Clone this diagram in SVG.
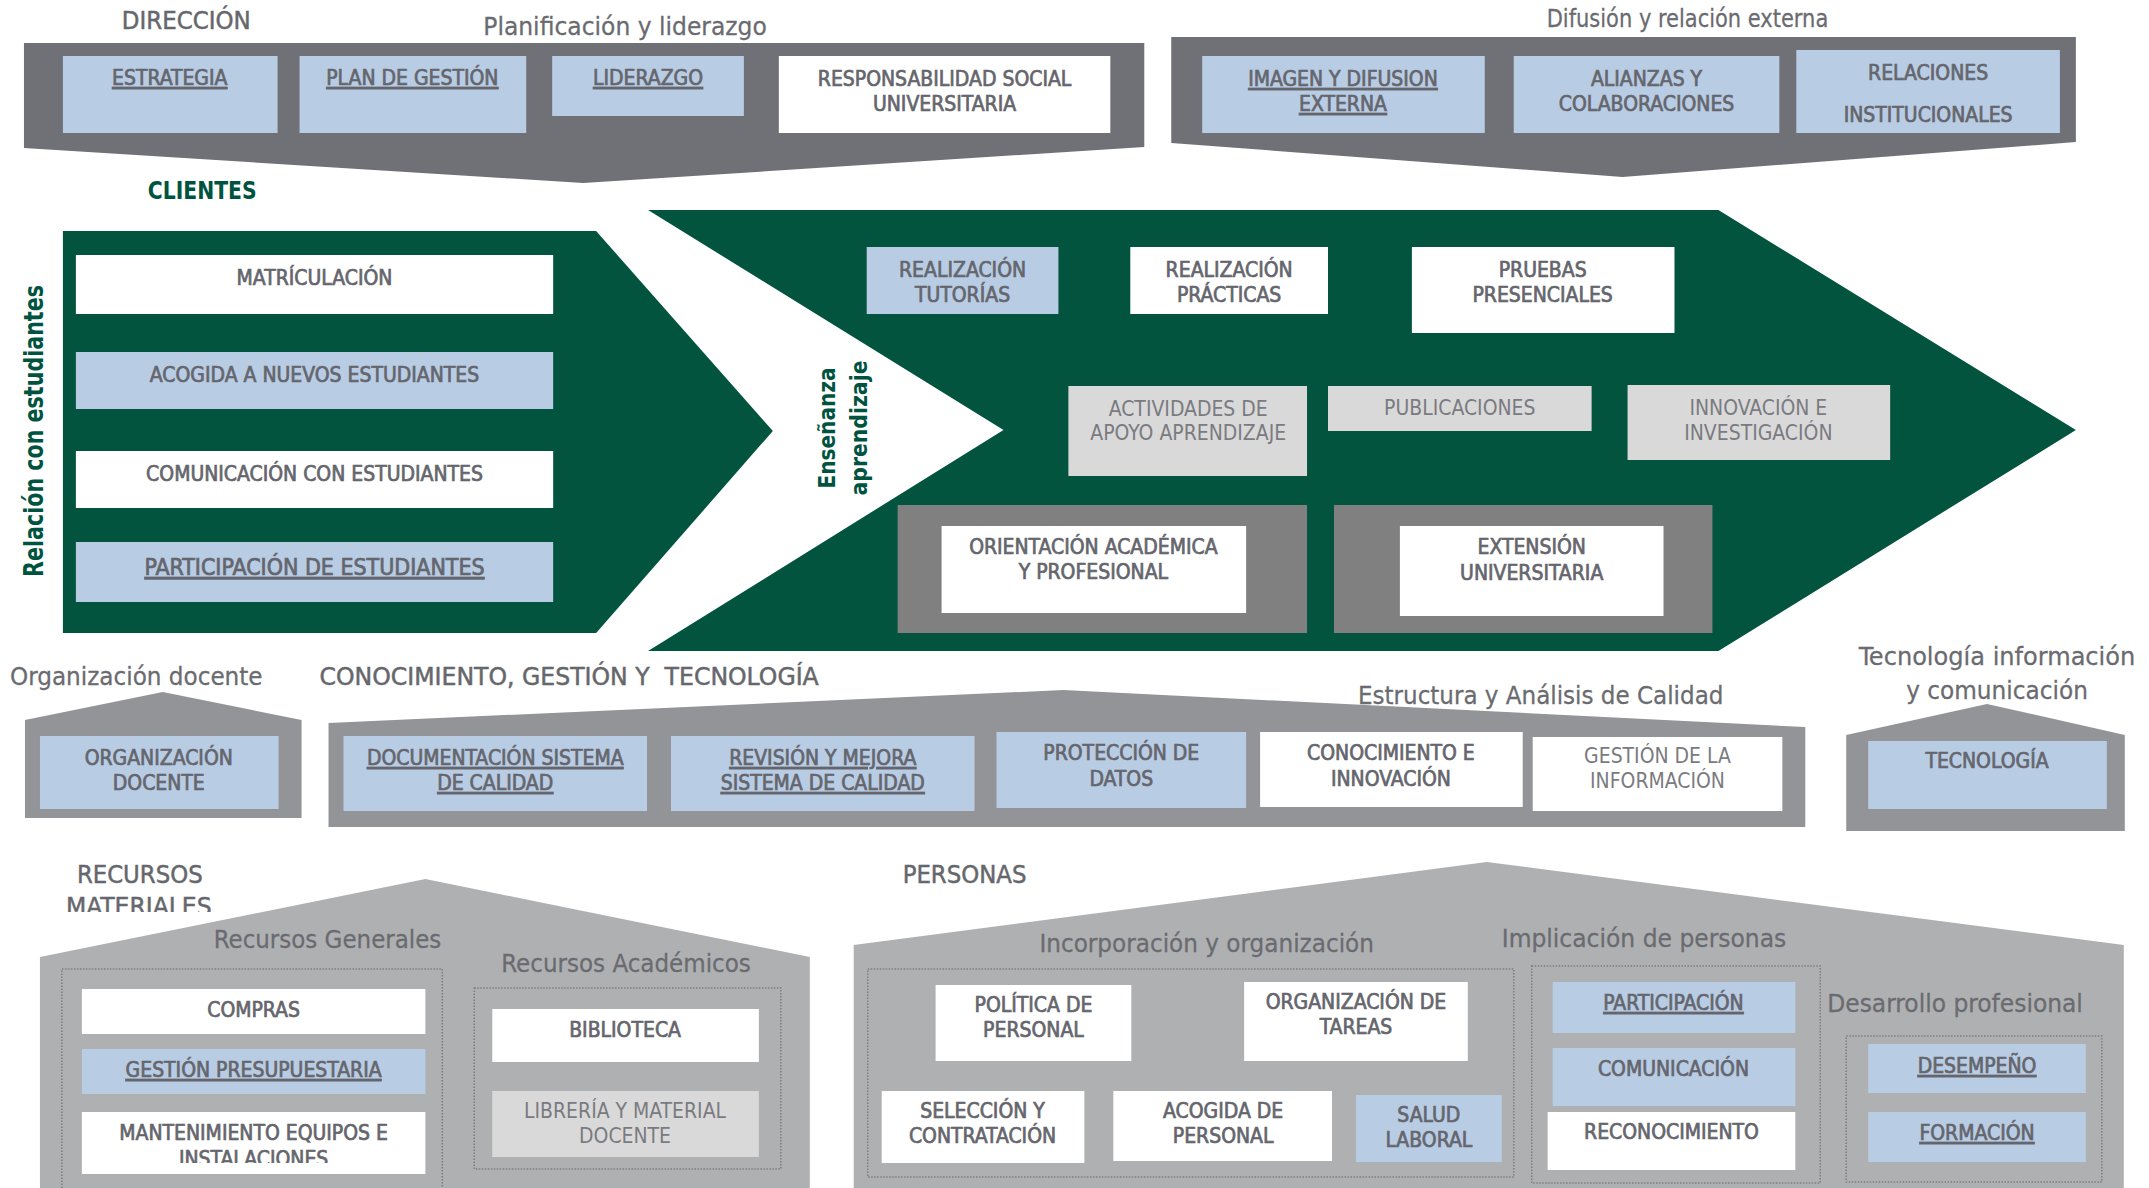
<svg xmlns="http://www.w3.org/2000/svg" width="2149" height="1188" viewBox="0 0 2149 1188">
<style>
text{font-family:"DejaVu Sans Condensed","DejaVu Sans","Liberation Sans",sans-serif;font-stretch:semi-condensed}
.l{font-size:21px;fill:#65666d;stroke:#65666d;stroke-width:0.7;text-anchor:middle}
.lt{font-size:21px;fill:#7a7b80;text-anchor:middle}
.u{text-decoration:underline}
.t{font-size:25px;fill:#6a6b70;stroke:#6a6b70;stroke-width:0.25}
.c{font-size:24px;fill:#66676c;stroke:#66676c;stroke-width:0.45}
.g{font-family:"DejaVu Sans","Liberation Sans",sans-serif;font-stretch:normal;font-weight:bold;fill:#00543f}
.b{fill:#b8cce4}.w{fill:#ffffff}.lg{fill:#d9d9d9}
.dk{fill:#707176}.md{fill:#939498}.lh{fill:#afb0b2}.fr{fill:#808080}.gr{fill:#02543f}
.dot{fill:none;stroke:#7c7d81;stroke-width:1.5;stroke-dasharray:1.5 1.5}
</style>
<defs>
<clipPath id="clipMat"><rect x="0" y="890" width="300" height="22"/></clipPath>
<clipPath id="clipInst"><rect x="82" y="1145" width="344" height="18"/></clipPath>
</defs>
<rect width="2149" height="1188" fill="#ffffff"/>
<g id="diagram" transform="scale(0.9985 1)">
<g id="direccion">
<text class="c" x="122" y="29" textLength="129" lengthAdjust="spacingAndGlyphs">DIRECCIÓN</text>
<text class="t" x="626" y="35" text-anchor="middle" textLength="284" lengthAdjust="spacingAndGlyphs">Planificación y liderazgo</text>
<polygon class="dk" points="24,43 1146,43 1146,147 584,183 24,148"/>
</g>
<g id="estrategia"><rect class="b" x="63" y="56" width="215" height="77"/><text class="l u" x="170" y="85">ESTRATEGIA</text></g>
<g id="plan-gestion"><rect class="b" x="300" y="56" width="227" height="77"/><text class="l u" x="413" y="85">PLAN DE GESTIÓN</text></g>
<g id="liderazgo"><rect class="b" x="553" y="56" width="192" height="60"/><text class="l u" x="649" y="85">LIDERAZGO</text></g>
<g id="rsu"><rect class="w" x="780" y="56" width="332" height="77"/><text class="l" x="946" y="86">RESPONSABILIDAD SOCIAL</text><text class="l" x="946" y="111">UNIVERSITARIA</text></g>

<g id="difusion">
<text class="t" x="1690" y="27" text-anchor="middle" textLength="282" lengthAdjust="spacingAndGlyphs">Difusión y relación externa</text>
<polygon class="dk" points="1173,37 2079,37 2079,142 1625,177 1173,143"/>
</g>
<g id="imagen"><rect class="b" x="1204" y="56" width="283" height="77"/><text class="l u" x="1345" y="86">IMAGEN Y DIFUSION</text><text class="l u" x="1345" y="111">EXTERNA</text></g>
<g id="alianzas"><rect class="b" x="1516" y="56" width="266" height="77"/><text class="l" x="1649" y="86">ALIANZAS Y</text><text class="l" x="1649" y="111">COLABORACIONES</text></g>
<g id="relaciones"><rect class="b" x="1799" y="50" width="264" height="83"/><text class="l" x="1931" y="80">RELACIONES</text><text class="l" x="1931" y="122">INSTITUCIONALES</text></g>

<g id="clientes">
<text class="g" x="148" y="199" font-size="25" textLength="109" lengthAdjust="spacingAndGlyphs">CLIENTES</text>
<polygon class="gr" points="63,231 597,231 774,431 597,633 63,633"/>
<text class="g" font-size="27" text-anchor="middle" transform="translate(43,431) rotate(-90)" textLength="292" lengthAdjust="spacingAndGlyphs">Relación con estudiantes</text>
</g>
<g id="matriculacion"><rect class="w" x="76" y="255" width="478" height="59"/><text class="l" x="315" y="285">MATRÍCULACIÓN</text></g>
<g id="acogida"><rect class="b" x="76" y="352" width="478" height="57"/><text class="l" x="315" y="382">ACOGIDA A NUEVOS ESTUDIANTES</text></g>
<g id="comunicacion-est"><rect class="w" x="76" y="451" width="478" height="57"/><text class="l" x="315" y="481">COMUNICACIÓN CON ESTUDIANTES</text></g>
<g id="participacion-est"><rect class="b" x="76" y="542" width="478" height="60"/><text class="l u" x="315" y="575" style="font-size:23px">PARTICIPACIÓN DE ESTUDIANTES</text></g>

<g id="ensenanza">
<polygon class="gr" points="649,210 1721,210 2079,430 1721,651 649,651 1005,430"/>
<text class="g" font-size="23" text-anchor="middle" transform="translate(836,428) rotate(-90)" textLength="121" lengthAdjust="spacingAndGlyphs">Enseñanza</text>
<text class="g" font-size="23" text-anchor="middle" transform="translate(868,428) rotate(-90)" textLength="135" lengthAdjust="spacingAndGlyphs">aprendizaje</text>
</g>
<g id="tutorias"><rect class="b" x="868" y="247" width="192" height="67"/><text class="l" x="964" y="277">REALIZACIÓN</text><text class="l" x="964" y="302">TUTORÍAS</text></g>
<g id="practicas"><rect class="w" x="1132" y="247" width="198" height="67"/><text class="l" x="1231" y="277">REALIZACIÓN</text><text class="l" x="1231" y="302">PRÁCTICAS</text></g>
<g id="pruebas"><rect class="w" x="1414" y="247" width="263" height="86"/><text class="l" x="1545" y="277">PRUEBAS</text><text class="l" x="1545" y="302">PRESENCIALES</text></g>
<g id="actividades"><rect class="lg" x="1070" y="386" width="239" height="90"/><text class="lt" x="1190" y="416">ACTIVIDADES DE</text><text class="lt" x="1190" y="440">APOYO APRENDIZAJE</text></g>
<g id="publicaciones"><rect class="lg" x="1330" y="386" width="264" height="45"/><text class="lt" x="1462" y="415">PUBLICACIONES</text></g>
<g id="innovacion"><rect class="lg" x="1630" y="385" width="263" height="75"/><text class="lt" x="1761" y="415">INNOVACIÓN E</text><text class="lt" x="1761" y="440">INVESTIGACIÓN</text></g>
<g id="orientacion"><rect class="fr" x="899" y="505" width="410" height="128"/><rect class="w" x="943" y="526" width="305" height="87"/><text class="l" x="1095" y="554">ORIENTACIÓN ACADÉMICA</text><text class="l" x="1095" y="579">Y PROFESIONAL</text></g>
<g id="extension"><rect class="fr" x="1336" y="505" width="379" height="128"/><rect class="w" x="1402" y="526" width="264" height="90"/><text class="l" x="1534" y="554">EXTENSIÓN</text><text class="l" x="1534" y="580">UNIVERSITARIA</text></g>

<g id="organizacion-docente">
<text class="t" x="10" y="685" textLength="253" lengthAdjust="spacingAndGlyphs">Organización docente</text>
<polygon class="md" points="25,720 163,692 302,720 302,818 25,818"/>
<rect class="b" x="40" y="736" width="239" height="73"/><text class="l" x="159" y="765">ORGANIZACIÓN</text><text class="l" x="159" y="790">DOCENTE</text>
</g>

<g id="conocimiento">
<text class="c" x="320" y="685" textLength="500" lengthAdjust="spacingAndGlyphs" xml:space="preserve">CONOCIMIENTO, GESTIÓN Y  TECNOLOGÍA</text>
<polygon class="md" points="329,723 1065,690 1808,727 1808,827 329,827"/>
<text class="t" x="1360" y="704" textLength="366" lengthAdjust="spacingAndGlyphs">Estructura y Análisis de Calidad</text>
</g>
<g id="documentacion"><rect class="b" x="344" y="736" width="304" height="75"/><text class="l u" x="496" y="765">DOCUMENTACIÓN SISTEMA</text><text class="l u" x="496" y="790">DE CALIDAD</text></g>
<g id="revision"><rect class="b" x="672" y="736" width="304" height="75"/><text class="l u" x="824" y="765">REVISIÓN Y MEJORA</text><text class="l u" x="824" y="790">SISTEMA DE CALIDAD</text></g>
<g id="proteccion"><rect class="b" x="998" y="732" width="250" height="76"/><text class="l" x="1123" y="760">PROTECCIÓN DE</text><text class="l" x="1123" y="786">DATOS</text></g>
<g id="conocimiento-innovacion"><rect class="w" x="1262" y="732" width="263" height="75"/><text class="l" x="1393" y="760">CONOCIMIENTO E</text><text class="l" x="1393" y="786">INNOVACIÓN</text></g>
<g id="gestion-informacion"><rect class="w" x="1535" y="737" width="250" height="74"/><text class="lt" x="1660" y="763">GESTIÓN DE LA</text><text class="lt" x="1660" y="788">INFORMACIÓN</text></g>

<g id="tecnologia">
<text class="t" x="2000" y="665" text-anchor="middle" textLength="277" lengthAdjust="spacingAndGlyphs">Tecnología información</text>
<text class="t" x="2000" y="699" text-anchor="middle" textLength="182" lengthAdjust="spacingAndGlyphs">y comunicación</text>
<polygon class="md" points="1849,735 1990,704 2128,735 2128,831 1849,831"/>
<rect class="b" x="1871" y="741" width="239" height="68"/><text class="l" x="1990" y="768">TECNOLOGÍA</text>
</g>

<g id="recursos">
<text class="c" x="77" y="883" textLength="126" lengthAdjust="spacingAndGlyphs">RECURSOS</text>
<text class="c" x="66" y="915" textLength="146" lengthAdjust="spacingAndGlyphs" clip-path="url(#clipMat)">MATERIALES</text>
<polygon class="lh" points="40,957 426,879 811,957 811,1188 40,1188"/>
<text class="t" x="214" y="948" textLength="228" lengthAdjust="spacingAndGlyphs">Recursos Generales</text>
<rect class="dot" x="62" y="969" width="381" height="240"/>
<text class="t" x="502" y="972" textLength="250" lengthAdjust="spacingAndGlyphs">Recursos Académicos</text>
<rect class="dot" x="475" y="988" width="307" height="181"/>
</g>
<g id="compras"><rect class="w" x="82" y="989" width="344" height="45"/><text class="l" x="254" y="1017">COMPRAS</text></g>
<g id="gestion-presupuestaria"><rect class="b" x="82" y="1049" width="344" height="45"/><text class="l u" x="254" y="1077">GESTIÓN PRESUPUESTARIA</text></g>
<g id="mantenimiento"><rect class="w" x="82" y="1112" width="344" height="62"/><text class="l" x="254" y="1140">MANTENIMIENTO EQUIPOS E</text><text class="l" x="254" y="1166" clip-path="url(#clipInst)">INSTALACIONES</text></g>
<g id="biblioteca"><rect class="w" x="493" y="1009" width="267" height="53"/><text class="l" x="626" y="1037">BIBLIOTECA</text></g>
<g id="libreria"><rect class="lg" x="493" y="1091" width="267" height="66"/><text class="lt" x="626" y="1118">LIBRERÍA Y MATERIAL</text><text class="lt" x="626" y="1143">DOCENTE</text></g>

<g id="personas">
<text class="c" x="904" y="883" textLength="124" lengthAdjust="spacingAndGlyphs">PERSONAS</text>
<polygon class="lh" points="855,945 1489,862 2127,945 2127,1188 855,1188"/>
<text class="t" x="1041" y="952" textLength="335" lengthAdjust="spacingAndGlyphs">Incorporación y organización</text>
<text class="t" x="1504" y="947" textLength="285" lengthAdjust="spacingAndGlyphs">Implicación de personas</text>
<text class="t" x="1830" y="1012" textLength="256" lengthAdjust="spacingAndGlyphs">Desarrollo profesional</text>
<rect class="dot" x="869" y="969" width="647" height="208"/>
<rect class="dot" x="1534" y="966" width="289" height="217"/>
<rect class="dot" x="1849" y="1036" width="256" height="146"/>
</g>
<g id="politica"><rect class="w" x="937" y="985" width="196" height="76"/><text class="l" x="1035" y="1012">POLÍTICA DE</text><text class="l" x="1035" y="1037">PERSONAL</text></g>
<g id="organizacion-tareas"><rect class="w" x="1246" y="982" width="224" height="79"/><text class="l" x="1358" y="1009">ORGANIZACIÓN DE</text><text class="l" x="1358" y="1034">TAREAS</text></g>
<g id="seleccion"><rect class="w" x="883" y="1091" width="203" height="72"/><text class="l" x="984" y="1118">SELECCIÓN Y</text><text class="l" x="984" y="1143">CONTRATACIÓN</text></g>
<g id="acogida-personal"><rect class="w" x="1115" y="1091" width="219" height="70"/><text class="l" x="1225" y="1118">ACOGIDA DE</text><text class="l" x="1225" y="1143">PERSONAL</text></g>
<g id="salud"><rect class="b" x="1358" y="1095" width="146" height="67"/><text class="l" x="1431" y="1122">SALUD</text><text class="l" x="1431" y="1147">LABORAL</text></g>
<g id="participacion"><rect class="b" x="1555" y="982" width="243" height="51"/><text class="l u" x="1676" y="1010">PARTICIPACIÓN</text></g>
<g id="comunicacion"><rect class="b" x="1555" y="1048" width="243" height="58"/><text class="l" x="1676" y="1076">COMUNICACIÓN</text></g>
<g id="reconocimiento"><rect class="w" x="1550" y="1112" width="248" height="58"/><text class="l" x="1674" y="1139">RECONOCIMIENTO</text></g>
<g id="desempeno"><rect class="b" x="1871" y="1044" width="218" height="49"/><text class="l u" x="1980" y="1073">DESEMPEÑO</text></g>
<g id="formacion"><rect class="b" x="1871" y="1112" width="218" height="50"/><text class="l u" x="1980" y="1140">FORMACIÓN</text></g>
</g>
<g id="connectors"></g>
</svg>
